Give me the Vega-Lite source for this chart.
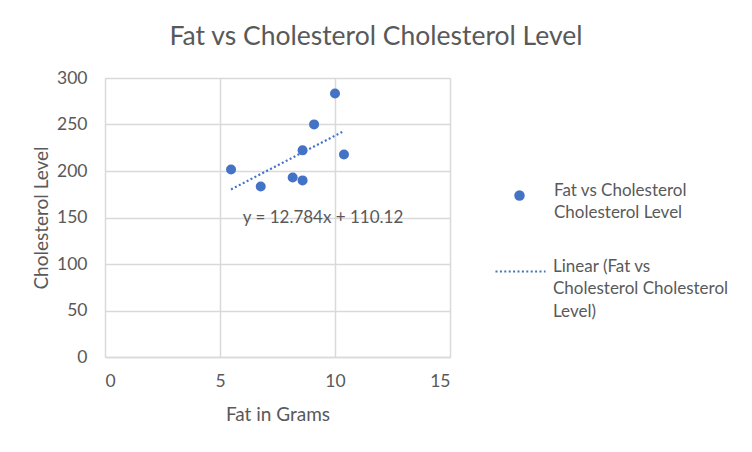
{
  "$schema": "https://vega.github.io/schema/vega-lite/v6.json",
  "autosize": "none",
  "width": 345,
  "height": 279,
  "padding": {"left": 105, "top": 78, "right": 302, "bottom": 95},
  "background": "white",
  "title": {
    "text": "Fat vs Cholesterol Cholesterol Level",
    "font": "Lato",
    "fontSize": 26.5,
    "fontWeight": "normal",
    "color": "#595959",
    "anchor": "middle",
    "frame": "group",
    "dx": 98.5,
    "offset": 19
  },
  "datasets": {
    "points": [
      {"fat": 5.48, "chol": 201.7, "series": "Fat vs Cholesterol Cholesterol Level"},
      {"fat": 6.77, "chol": 183.4, "series": "Fat vs Cholesterol Cholesterol Level"},
      {"fat": 8.16, "chol": 193.1, "series": "Fat vs Cholesterol Cholesterol Level"},
      {"fat": 8.59, "chol": 189.9, "series": "Fat vs Cholesterol Cholesterol Level"},
      {"fat": 8.59, "chol": 222.2, "series": "Fat vs Cholesterol Cholesterol Level"},
      {"fat": 9.09, "chol": 250.1, "series": "Fat vs Cholesterol Cholesterol Level"},
      {"fat": 10.0, "chol": 283.4, "series": "Fat vs Cholesterol Cholesterol Level"},
      {"fat": 10.39, "chol": 217.8, "series": "Fat vs Cholesterol Cholesterol Level"}
    ],
    "trend": [
      {"fat": 5.48, "chol": 180.2, "series": "Linear (Fat vs Cholesterol Cholesterol Level)"},
      {"fat": 10.4, "chol": 243.1, "series": "Linear (Fat vs Cholesterol Cholesterol Level)"}
    ],
    "label": [
      {"fat": 9.48, "chol": 149, "text": "y = 12.784x + 110.12"}
    ]
  },
  "layer": [
    {
      "data": {"name": "trend"},
      "mark": {"type": "line", "color": "#4472C4", "strokeWidth": 2.2},
      "encoding": {
        "x": {"field": "fat", "type": "quantitative"},
        "y": {"field": "chol", "type": "quantitative"},
        "strokeDash": {
          "field": "series",
          "type": "nominal",
          "scale": {"range": [[2, 2.4]]},
          "legend": {
            "orient": "none",
            "legendX": 389,
            "legendY": 167,
            "title": null,
            "symbolType": "stroke",
            "symbolSize": 2500,
            "symbolStrokeColor": "#4472C4",
            "symbolStrokeWidth": 2.2,
            "symbolOpacity": 1,
            "labelExpr": "['Linear (Fat vs', 'Cholesterol Cholesterol', 'Level)']",
            "labelFont": "Lato",
            "labelFontSize": 17,
            "labelColor": "#595959",
            "labelLimit": 300,
            "labelOffset": 6,
            "labelBaseline": "alphabetic"
          }
        }
      }
    },
    {
      "data": {"name": "points"},
      "mark": {"type": "point", "filled": true, "color": "#4472C4", "opacity": 1, "size": 100},
      "encoding": {
        "x": {
          "field": "fat",
          "type": "quantitative",
          "scale": {"domain": [0, 15], "nice": false, "zero": true},
          "axis": {
            "values": [0, 5, 10, 15],
            "title": "Fat in Grams",
            "titleFont": "Lato",
            "titleFontSize": 19,
            "titleFontWeight": "normal",
            "titleColor": "#595959",
            "titlePadding": 15.5,
            "labelFont": "Lato",
            "labelFontSize": 17.5,
            "labelColor": "#595959",
            "labelPadding": 15,
            "ticks": false,
            "domainColor": "#d9d9d9",
            "domainWidth": 1.5,
            "gridColor": "#d9d9d9",
            "gridWidth": 1.5
          }
        },
        "y": {
          "field": "chol",
          "type": "quantitative",
          "scale": {"domain": [0, 300], "nice": false},
          "axis": {
            "values": [0, 50, 100, 150, 200, 250, 300],
            "title": "Cholesterol Level",
            "titleFont": "Lato",
            "titleFontSize": 19,
            "titleFontWeight": "normal",
            "titleColor": "#595959",
            "titlePadding": 5,
            "labelFont": "Lato",
            "labelFontSize": 17.5,
            "labelColor": "#595959",
            "labelPadding": 18,
            "ticks": false,
            "domain": false,
            "gridColor": "#d9d9d9",
            "gridWidth": 1.5
          }
        },
        "shape": {
          "field": "series",
          "type": "nominal",
          "scale": {"range": ["circle"]},
          "legend": {
            "orient": "none",
            "legendX": 406,
            "legendY": 109,
            "title": null,
            "symbolType": "circle",
            "symbolSize": 110,
            "symbolFillColor": "#4472C4",
            "symbolStrokeColor": "#4472C4",
            "labelExpr": "['Fat vs Cholesterol', 'Cholesterol Level']",
            "labelFont": "Lato",
            "labelFontSize": 17,
            "labelColor": "#595959",
            "labelLimit": 300,
            "labelOffset": 26,
            "labelBaseline": "alphabetic"
          }
        }
      }
    },
    {
      "data": {"name": "label"},
      "mark": {"type": "text", "font": "Lato", "fontSize": 17, "color": "#595959", "align": "center", "baseline": "middle"},
      "encoding": {
        "x": {"field": "fat", "type": "quantitative"},
        "y": {"field": "chol", "type": "quantitative"},
        "text": {"field": "text"}
      }
    }
  ],
  "config": {
    "view": {"stroke": null},
    "style": {"guide-label": {"lineHeight": 22.5}}
  }
}
